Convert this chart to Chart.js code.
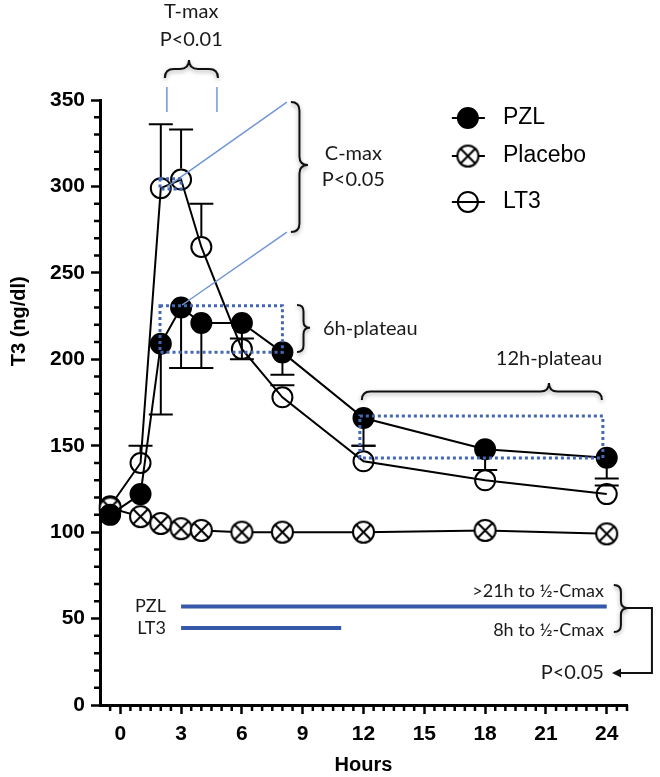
<!DOCTYPE html>
<html>
<head>
<meta charset="utf-8">
<script src="https://cdn.jsdelivr.net/npm/chart.js@4"></script>
<style>
  html, body { margin: 0; padding: 0; background: #fff; }
</style>
</head>
<body>
<canvas id="chart" width="660" height="777"></canvas>
<script>
// sampling times (hours) and group means
var hours = [-0.5, 1, 2, 3, 4, 6, 8, 12, 18, 24];
var pzl = [110, 122, 209, 230, 221, 221, 204, 166, 148, 143];
var placebo = [114, 109, 105, 102, 101, 100, 100, 100, 101, 99];
var lt3 = [115, 140, 299, 304, 265, 206, 178, 141, 130, 122];
// one-sided error bars: PZL drawn down, LT3 drawn up
var pzlErrLow = [0, 0, 41, 35, 26, 21, 13, 16, 12, 12];
var lt3ErrHigh = [0, 10, 37, 29, 25, 6, 7, 9, 6, 5];
var xTicks = [0, 3, 6, 9, 12, 15, 18, 21, 24];
var yTicks = [0, 50, 100, 150, 200, 250, 300, 350];

var axisFont = "'Liberation Sans', Arial, sans-serif";
var noteFont = "Lato, 'Noto Sans', sans-serif";

function toPoints(vals) {
    return hours.map(function (h, i) { return { x: h, y: vals[i] }; });
}

function crossedCircle(r) {
    var c = document.createElement("canvas");
    var s = Math.ceil(2 * r + 4);
    c.width = s;
    c.height = s;
    var g = c.getContext("2d");
    var m = s / 2;
    g.fillStyle = "#fff";
    g.strokeStyle = "#000";
    g.lineWidth = 2;
    g.beginPath();
    g.arc(m, m, r, 0, Math.PI * 2);
    g.fill();
    g.stroke();
    var d = r * Math.SQRT1_2;
    g.beginPath();
    g.moveTo(m - d, m - d);
    g.lineTo(m + d, m + d);
    g.moveTo(m + d, m - d);
    g.lineTo(m - d, m + d);
    g.stroke();
    return c;
}
var placeboMarker = crossedCircle(10.5);

// minor ticks on both axes
var minorTicks = {
    id: "minorTicks",
    afterDraw: function (chart) {
        var ctx = chart.ctx, x = chart.scales.x, y = chart.scales.y;
        ctx.save();
        ctx.strokeStyle = "#000";
        ctx.lineWidth = 2.5;
        ctx.beginPath();
        for (var v = 10; v < 350; v += 10) {
            if (v % 50 === 0) continue;
            var py = y.getPixelForValue(v);
            ctx.moveTo(x.left - 6, py);
            ctx.lineTo(x.left, py);
        }
        for (var h = -0.5; h <= 25; h += 0.5) {
            if (xTicks.indexOf(h) >= 0) continue;
            var px = x.getPixelForValue(h);
            ctx.moveTo(px, y.bottom);
            ctx.lineTo(px, y.bottom + 6);
        }
        ctx.stroke();
        ctx.restore();
    }
};

// error bars, under the markers
var errorBars = {
    id: "errorBars",
    beforeDatasetsDraw: function (chart) {
        var ctx = chart.ctx, x = chart.scales.x, y = chart.scales.y;
        ctx.save();
        ctx.strokeStyle = "#000";
        ctx.lineWidth = 2;
        function bar(vals, errs, dir, start) {
            for (var i = 0; i < hours.length; i++) {
                if (!errs[i]) continue;
                var px = x.getPixelForValue(hours[i]);
                var p0 = y.getPixelForValue(vals[i]) - dir * start;
                var p1 = y.getPixelForValue(vals[i] + dir * errs[i]);
                ctx.beginPath();
                ctx.moveTo(px, p0);
                ctx.lineTo(px, p1);
                ctx.moveTo(px - 12, p1);
                ctx.lineTo(px + 12, p1);
                ctx.stroke();
            }
        }
        bar(pzl, pzlErrLow, -1, 0);
        bar(lt3, lt3ErrHigh, 1, 11);
        ctx.restore();
    }
};

function braceV(ctx, x, y1, y2, tipX, tipY) {
    var w = tipX - x, hw = w / 2;
    ctx.beginPath();
    ctx.moveTo(x, y1);
    ctx.quadraticCurveTo(x + hw, y1, x + hw, y1 + hw);
    ctx.lineTo(x + hw, tipY - hw);
    ctx.quadraticCurveTo(x + hw, tipY, tipX, tipY);
    ctx.quadraticCurveTo(x + hw, tipY, x + hw, tipY + hw);
    ctx.lineTo(x + hw, y2 - hw);
    ctx.quadraticCurveTo(x + hw, y2, x, y2);
    ctx.stroke();
}

function braceH(ctx, x1, x2, y, tipX, tipY) {
    var h = y - tipY, hh = h / 2;
    ctx.beginPath();
    ctx.moveTo(x1, y);
    ctx.quadraticCurveTo(x1, y - hh, x1 + hh, y - hh);
    ctx.lineTo(tipX - hh, y - hh);
    ctx.quadraticCurveTo(tipX, y - hh, tipX, tipY);
    ctx.quadraticCurveTo(tipX, y - hh, tipX + hh, y - hh);
    ctx.lineTo(x2 - hh, y - hh);
    ctx.quadraticCurveTo(x2, y - hh, x2, y);
    ctx.stroke();
}

var annotate = {
    id: "annotate",
    afterDraw: function (chart) {
        var ctx = chart.ctx, x = chart.scales.x, y = chart.scales.y;
        function X(h) { return x.getPixelForValue(h); }
        function Y(v) { return y.getPixelForValue(v); }
        function text(str, h, v, align, font, color) {
            ctx.font = font;
            ctx.textAlign = align;
            ctx.textBaseline = "middle";
            ctx.fillStyle = color || "#1a1a1a";
            ctx.fillText(str, X(h), Y(v));
        }
        function line(h1, v1, h2, v2) {
            ctx.beginPath();
            ctx.moveTo(X(h1), Y(v1));
            ctx.lineTo(X(h2), Y(v2));
            ctx.stroke();
        }
        function box(h1, h2, v1, v2) {
            ctx.strokeRect(X(h1), Y(v2), X(h2) - X(h1), Y(v1) - Y(v2));
        }
        ctx.save();

        // y axis title
        ctx.save();
        ctx.translate(19, Y(222));
        ctx.rotate(-Math.PI / 2);
        ctx.font = "bold 20px " + axisFont;
        ctx.textAlign = "center";
        ctx.textBaseline = "middle";
        ctx.fillStyle = "#000";
        ctx.fillText("T3 (ng/dl)", 0, 0);
        ctx.restore();

        // thin blue guide lines
        ctx.strokeStyle = "#7096d6";
        ctx.lineWidth = 1.5;
        line(2.3, 357.5, 2.3, 343);
        line(4.77, 357.5, 4.77, 343);
        line(2.3, 299.7, 8.22, 348.8);
        line(3.05, 231.4, 8.22, 273.6);

        // dotted plateau boxes
        ctx.strokeStyle = "#4468b4";
        ctx.lineWidth = 3;
        ctx.setLineDash([3, 3]);
        box(1.96, 3.0, 298.5, 304.5);
        box(1.96, 8.0, 204, 231);
        box(11.82, 23.81, 142.9, 167.2);
        ctx.setLineDash([]);

        // braces
        ctx.save();
        ctx.strokeStyle = "#111";
        ctx.lineWidth = 2;
        ctx.shadowColor = "rgba(0,0,0,0.35)";
        ctx.shadowBlur = 4;
        ctx.shadowOffsetY = 2;
        braceH(ctx, X(2.2), X(4.82), Y(362.7), X(3.39), Y(373.1));
        braceV(ctx, X(8.42), Y(348.8), Y(273.6), X(9.26), Y(312.4));
        braceV(ctx, X(8.72), Y(231.4), Y(204.2), X(9.36), Y(218.2));
        braceH(ctx, X(11.92), X(23.76), Y(176.4), X(21.15), Y(186.3));
        braceV(ctx, X(24.35), Y(69.4), Y(42.2), X(25.05), Y(56.1));
        ctx.restore();

        // texts
        var f20 = "20px " + noteFont;
        text("T-max", 3.5, 401, "center", f20);
        text("P<0.01", 3.5, 385, "center", f20);
        text("C-max", 11.5, 319.3, "center", f20);
        text("P<0.05", 11.5, 303.7, "center", f20);
        text("6h-plateau", 10.0, 218, "left", f20);
        text("12h-plateau", 21.15, 200.2, "center", f20);

        // half-Cmax duration lines
        ctx.strokeStyle = "#3658a8";
        ctx.lineWidth = 4;
        line(3, 57, 24, 57);
        line(3, 44.5, 10.9, 44.5);
        var f18 = "18px " + noteFont;
        text("PZL", 2.25, 57, "right", f18);
        text("LT3", 2.25, 44.5, "right", f18);
        text(">21h to \u00bd-Cmax", 23.86, 66, "right", f18);
        text("8h to \u00bd-Cmax", 23.86, 43.4, "right", f18);
        text("P<0.05", 23.86, 18.5, "right", f20);

        // connector and arrow to P value
        ctx.strokeStyle = "#111";
        ctx.lineWidth = 2;
        ctx.beginPath();
        ctx.moveTo(X(25.05), Y(56.1));
        ctx.lineTo(X(26.23), Y(56.1));
        ctx.lineTo(X(26.23), Y(18.5));
        ctx.lineTo(X(24.5), Y(18.5));
        ctx.stroke();
        ctx.fillStyle = "#111";
        ctx.beginPath();
        ctx.moveTo(X(24.26), Y(18.5));
        ctx.lineTo(X(24.26) + 9, Y(18.5) - 4.5);
        ctx.lineTo(X(24.26) + 9, Y(18.5) + 4.5);
        ctx.closePath();
        ctx.fill();

        // legend
        var legendRows = [
            { label: "PZL", v: 339.6, kind: "filled" },
            { label: "Placebo", v: 317.6, kind: "crossed" },
            { label: "LT3", v: 291, kind: "open" }
        ];
        legendRows.forEach(function (row) {
            var cx = X(17.15), cy = Y(row.v);
            ctx.strokeStyle = "#000";
            ctx.lineWidth = 2;
            if (row.kind === "crossed") {
                line(16.36, row.v, 17.99, row.v);
                ctx.drawImage(placeboMarker, cx - placeboMarker.width / 2, cy - placeboMarker.height / 2);
            } else {
                ctx.beginPath();
                ctx.arc(cx, cy, 10, 0, Math.PI * 2);
                if (row.kind === "filled") {
                    ctx.fillStyle = "#000";
                    ctx.fill();
                }
                ctx.stroke();
                line(16.36, row.v, 17.99, row.v);
            }
            text(row.label, 18.88, row.v, "left", "23px " + axisFont, "#000");
        });

        ctx.restore();
    }
};

var ctx = document.getElementById("chart").getContext("2d");
var myChart = new Chart(ctx, {
    type: "line",
    data: {
        datasets: [
            {
                label: "PZL",
                data: toPoints(pzl),
                borderColor: "#000",
                borderWidth: 2,
                pointRadius: 10,
                pointBorderWidth: 2,
                pointBackgroundColor: "#000",
                pointBorderColor: "#000",
                clip: false
            },
            {
                label: "Placebo",
                data: toPoints(placebo),
                borderColor: "#000",
                borderWidth: 2,
                pointStyle: placeboMarker,
                clip: false
            },
            {
                label: "LT3",
                data: toPoints(lt3),
                borderColor: "#000",
                borderWidth: 2,
                pointRadius: 10,
                pointBorderWidth: 2,
                pointBackgroundColor: "rgba(255,255,255,0)",
                pointBorderColor: "#000",
                clip: false
            }
        ]
    },
    options: {
        responsive: false,
        animation: false,
        devicePixelRatio: 1,
        layout: { padding: { top: 100, right: 33, bottom: 0, left: 0 } },
        plugins: {
            legend: { display: false },
            tooltip: { enabled: false }
        },
        scales: {
            x: {
                type: "linear",
                min: -1,
                max: 25,
                afterBuildTicks: function (s) {
                    s.ticks = xTicks.map(function (v) { return { value: v }; });
                },
                afterFit: function (s) { s.height = 72; },
                grid: { drawOnChartArea: false, drawTicks: true, tickLength: 9, tickWidth: 2.5, tickColor: "#000" },
                border: { color: "#000", width: 3 },
                ticks: {
                    color: "#000",
                    padding: 8,
                    maxRotation: 0,
                    font: { family: axisFont, size: 21, weight: "bold" }
                },
                title: {
                    display: true,
                    text: "Hours",
                    color: "#000",
                    padding: { top: 0, bottom: 0 },
                    font: { family: axisFont, size: 20, weight: "bold" }
                }
            },
            y: {
                min: 0,
                max: 350,
                afterBuildTicks: function (s) {
                    s.ticks = yTicks.map(function (v) { return { value: v }; });
                },
                afterFit: function (s) { s.width = 100; },
                grid: { drawOnChartArea: false, drawTicks: true, tickLength: 9, tickWidth: 2.5, tickColor: "#000" },
                border: { color: "#000", width: 3 },
                ticks: {
                    color: "#000",
                    padding: 6,
                    font: { family: axisFont, size: 21, weight: "bold" }
                }
            }
        }
    },
    plugins: [errorBars, minorTicks, annotate]
});
</script>
</body>
</html>
